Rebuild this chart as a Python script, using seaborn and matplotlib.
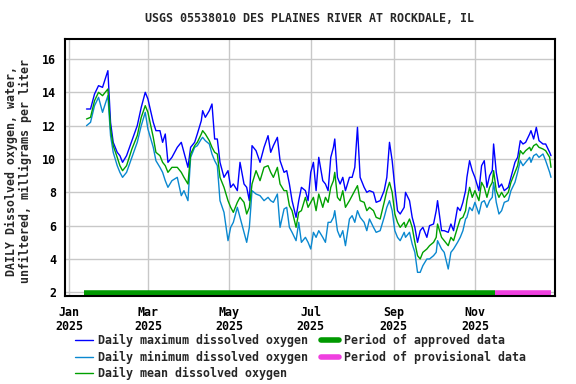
import pandas as pd
import matplotlib
matplotlib.use("Agg")
import matplotlib.pyplot as plt
from matplotlib.lines import Line2D
import seaborn as sns

# Leituras aproximadas do grafico (dia do ano a partir de 1 jan 2025)
dias = [13, 16, 19, 22, 25, 29, 31, 33, 36, 38, 40, 43, 47, 51, 54, 57, 59, 63, 65, 68,
        70, 72, 74, 77, 81, 84, 86, 89, 91, 94, 96, 99, 100, 102, 105, 107, 109, 111, 113, 116,
        119, 121, 123, 126, 128, 131, 133, 135, 137, 140, 143, 146, 149, 151, 153, 156, 158, 161, 163, 165,
        167, 170, 172, 174, 177, 179, 181, 183, 185, 187, 190, 192, 194, 196, 198, 199, 201, 203, 205, 207,
        210, 212, 214, 216, 218, 221, 223, 225, 228, 230, 233, 236, 238, 240, 242, 244, 246, 248, 251, 252,
        255, 257, 259, 261, 263, 265, 268, 270, 273, 275, 276, 279, 281, 284, 286, 288, 291, 293, 295, 297,
        298, 300, 302, 304, 307, 309, 311, 313, 315, 317, 318, 320, 322, 324, 326, 329, 331, 334, 336, 338,
        340, 342, 345, 346, 348, 350, 352, 355, 357, 360, 361]

od_max = [13.0, 13.0, 13.9, 14.4, 14.3, 15.3, 12.2, 11.0, 10.4, 10.2, 9.8, 10.2, 11.1, 12.0, 13.1, 14.0, 13.6, 12.2, 11.7, 11.7,
          11.0, 11.5, 9.8, 10.1, 10.7, 11.0, 10.4, 9.5, 10.7, 11.0, 11.5, 12.3, 12.9, 12.5, 12.9, 13.3, 11.2, 11.2, 9.8, 8.9,
          9.3, 8.3, 8.5, 8.1, 9.8, 8.5, 8.3, 7.5, 10.8, 10.5, 9.8, 10.7, 11.4, 10.4, 10.8, 11.3, 9.9, 9.2, 9.3, 8.5,
          7.5, 6.5, 7.5, 8.3, 8.1, 7.5, 9.2, 9.8, 8.1, 10.1, 8.7, 8.5, 8.1, 10.1, 10.7, 11.2, 8.9, 8.5, 8.9, 8.1,
          8.9, 8.9, 9.5, 11.9, 8.9, 8.3, 8.0, 8.1, 8.0, 7.4, 7.5, 8.1, 8.9, 11.0, 9.9, 8.3, 6.9, 6.7, 7.1, 8.0,
          7.5, 6.5, 5.9, 5.0, 5.7, 5.9, 5.3, 6.0, 6.1, 6.9, 7.5, 5.7, 5.7, 5.6, 6.1, 5.7, 7.1, 6.9, 7.4, 8.1,
          8.9, 9.9, 9.3, 8.9, 8.1, 9.6, 9.9, 8.3, 9.0, 9.3, 10.9, 9.2, 8.3, 8.5, 8.1, 8.3, 8.9, 9.8, 10.1, 11.1,
          10.9, 11.0, 11.5, 11.7, 11.2, 11.9, 11.1, 10.9, 10.9, 10.4, 10.2]

od_min = [12.0, 12.2, 13.2, 13.7, 12.8, 13.8, 11.4, 10.4, 9.6, 9.2, 8.9, 9.2, 10.1, 11.0, 12.0, 12.8, 11.8, 10.7, 9.9, 9.5,
          9.2, 8.7, 8.3, 8.7, 8.9, 7.8, 8.1, 7.5, 10.1, 10.7, 10.8, 11.2, 11.3, 11.1, 10.9, 10.3, 9.9, 9.6, 7.5, 6.8,
          5.1, 5.9, 6.2, 7.1, 6.5, 5.6, 5.0, 5.9, 8.1, 7.9, 7.8, 7.5, 7.7, 7.5, 7.4, 7.9, 5.9, 7.0, 7.1, 5.9,
          5.6, 5.1, 6.2, 5.0, 5.3, 5.0, 4.6, 5.6, 5.3, 5.7, 5.3, 5.0, 6.2, 6.2, 6.5, 6.9, 5.7, 5.3, 5.7, 4.8,
          6.4, 6.6, 6.2, 6.9, 6.5, 6.2, 5.7, 6.4, 5.9, 5.6, 5.7, 6.5, 7.1, 7.5, 6.9, 5.7, 5.3, 5.1, 5.6, 5.3,
          5.6, 4.9, 4.4, 3.2, 3.2, 3.6, 4.0, 4.0, 4.2, 4.4, 5.1, 4.6, 4.4, 3.4, 4.4, 4.6, 5.0, 5.3, 5.7, 6.4,
          6.5, 7.1, 6.9, 7.4, 6.7, 7.4, 7.5, 7.1, 7.5, 7.7, 8.6, 7.4, 6.7, 6.9, 7.4, 7.5, 8.1, 8.6, 9.2, 9.9,
          9.6, 9.8, 10.1, 9.8, 10.2, 10.3, 10.1, 10.3, 9.9, 9.2, 8.9]

od_media = [12.4, 12.5, 13.5, 14.0, 13.8, 14.2, 11.8, 10.8, 10.1, 9.6, 9.3, 9.6, 10.6, 11.4, 12.5, 13.2, 12.8, 11.3, 10.4, 10.2,
            9.8, 9.6, 9.2, 9.5, 9.5, 9.2, 8.9, 8.5, 10.3, 10.8, 11.0, 11.5, 11.7, 11.5, 11.1, 10.7, 10.4, 10.3, 8.9, 8.3,
            7.5, 7.1, 6.8, 7.4, 7.7, 7.4, 6.7, 7.1, 8.5, 9.3, 8.7, 9.5, 9.6, 9.2, 8.9, 9.5, 8.5, 8.1, 8.1, 7.2,
            6.9, 5.9, 6.8, 6.9, 7.7, 7.1, 7.4, 7.7, 6.9, 7.9, 7.1, 7.7, 7.4, 8.3, 8.7, 9.2, 7.7, 7.5, 8.1, 7.1,
            7.5, 7.8, 8.1, 8.4, 7.5, 7.4, 6.9, 7.1, 6.9, 6.5, 6.4, 7.4, 8.1, 8.6, 8.0, 6.7, 6.2, 5.9, 6.2, 5.9,
            6.4, 5.9, 5.0, 4.2, 4.0, 4.4, 4.6, 4.8, 5.0, 5.3, 6.1, 5.3, 5.1, 4.8, 5.3, 5.1, 5.9, 6.4, 6.5, 6.9,
            7.5, 8.3, 7.7, 8.1, 7.5, 8.6, 8.3, 7.7, 8.3, 8.6, 9.3, 8.1, 7.7, 8.0, 7.7, 8.0, 8.6, 9.2, 9.6, 10.5,
            10.3, 10.5, 10.7, 10.5, 10.8, 10.9, 10.7, 10.6, 10.5, 10.1, 9.5]

# periodos de aprovacao dos dados
periodo_aprovado = ["2025-01-12", "2025-11-16"]
periodo_provisorio = ["2025-11-16", "2025-12-28"]

meses_ticks = ["2025-01-01", "2025-03-01", "2025-05-01", "2025-07-01", "2025-09-01", "2025-11-01"]
rotulos_ticks = ["Jan\n2025", "Mar\n2025", "May\n2025", "Jul\n2025", "Sep\n2025", "Nov\n2025"]
y_ticks = [2, 4, 6, 8, 10, 12, 14, 16]

titulo = "USGS 05538010 DES PLAINES RIVER AT ROCKDALE, IL"
rotulo_y = "DAILY Dissolved oxygen, water,\nunfiltered, milligrams per liter"

cor_max = "#0000FF"
cor_min = "#0A88D0"
cor_media = "#00A000"
cor_aprovado = "#009900"
cor_provisorio = "#F040E0"

inicio = pd.Timestamp("2025-01-01")
df = pd.DataFrame({
    "data": inicio + pd.to_timedelta(dias, unit="D"),
    "max": od_max,
    "min": od_min,
    "media": od_media,
})

sns.set_style("whitegrid")
plt.rcParams["font.family"] = ["DejaVu Sans Mono"]
plt.rcParams["font.weight"] = "bold"
plt.rcParams["font.size"] = 8.4

fig = plt.figure(figsize=(5.76, 3.84), dpi=100)
ax = fig.add_axes([64.5 / 576, 1 - 296 / 384, 490.5 / 576, 257 / 384])

sns.lineplot(data=df, x="data", y="max", color=cor_max, linewidth=1, ax=ax)
sns.lineplot(data=df, x="data", y="min", color=cor_min, linewidth=1, ax=ax)
sns.lineplot(data=df, x="data", y="media", color=cor_media, linewidth=1, ax=ax)

# barras de periodo na base
ax.plot(pd.to_datetime(periodo_aprovado), [1.95, 1.95], color=cor_aprovado, linewidth=4, solid_capstyle="butt")
ax.plot(pd.to_datetime(periodo_provisorio), [1.95, 1.95], color=cor_provisorio, linewidth=4, solid_capstyle="butt")

ax.set_xlim(pd.Timestamp("2024-12-28 12:00"), pd.Timestamp("2025-12-31"))
ax.set_ylim(1.78, 17.2)
ax.set_xticks(pd.to_datetime(meses_ticks))
ax.set_xticklabels(rotulos_ticks, fontweight="bold", linespacing=1.1)
ax.set_yticks(y_ticks)
ax.set_yticklabels([str(v) for v in y_ticks], fontweight="bold")
ax.tick_params(axis="both", length=0, labelsize=8.4, colors="black")
ax.tick_params(axis="x", pad=7)
ax.tick_params(axis="y", pad=6)
ax.set_xlabel("")
ax.set_ylabel("")
ax.grid(True, color="#C8C8C8", linewidth=1)
for lado in ax.spines.values():
    lado.set_color("black")
    lado.set_linewidth(1.5)

fig.text((64.5 + 555) / 2 / 576, 1 - 18 / 384, titulo, ha="center", va="center", fontweight="bold", fontsize=8.4)
fig.text(18.5 / 576, 1 - 171 / 384, rotulo_y, ha="center", va="center", rotation=90,
         fontweight="bold", fontsize=8.4, linespacing=1.1)

handles = [
    Line2D([], [], color=cor_max, linewidth=1),
    Line2D([], [], color=cor_min, linewidth=1),
    Line2D([], [], color=cor_media, linewidth=1),
    Line2D([], [], color=cor_aprovado, linewidth=4),
    Line2D([], [], color=cor_provisorio, linewidth=4),
]
rotulos = [
    "Daily maximum dissolved oxygen",
    "Daily minimum dissolved oxygen",
    "Daily mean dissolved oxygen",
    "Period of approved data",
    "Period of provisional data",
]
fig.legend(handles, rotulos, ncol=2, loc="upper left", bbox_to_anchor=(75 / 576, 1 - 334 / 384),
           frameon=False, borderpad=0, handlelength=1.55, handletextpad=0.45, columnspacing=1.1,
           labelspacing=0.3, borderaxespad=0, prop={"weight": "bold", "size": 8.4})

fig.savefig("out.png", dpi=100, facecolor="white")
